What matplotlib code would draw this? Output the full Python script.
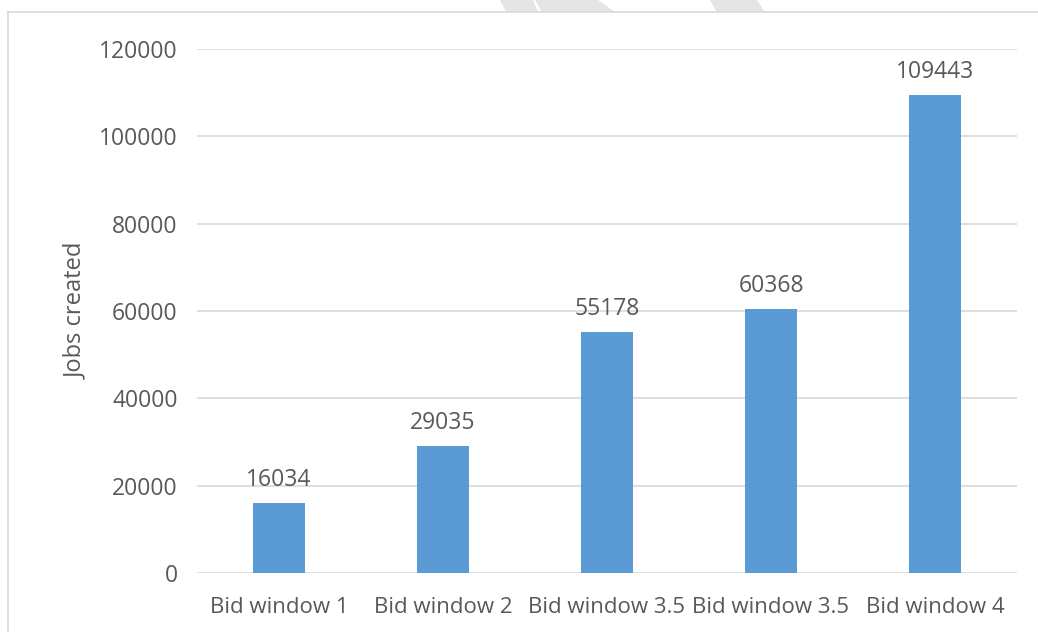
import matplotlib
matplotlib.use("Agg")
import matplotlib.pyplot as plt
from matplotlib.patches import Polygon
from matplotlib.lines import Line2D

categories = ["Bid window 1", "Bid window 2", "Bid window 3.5", "Bid window 3.5", "Bid window 4"]
jobs_created = [16034, 29035, 55178, 60368, 109443]
y_ticks = [0, 20000, 40000, 60000, 80000, 100000, 120000]

W, H = 1038, 632
plt.rcParams['font.family'] = ['Open Sans', 'DejaVu Sans']
fig = plt.figure(figsize=(W / 100, H / 100), dpi=100)

text_color = "#595959"
grid_color = "#D9D9D9"
bar_color = "#5B9BD5"

# decorative watermark shapes above the chart frame (figure pixel coords)
def px(x, y):
    return (x / W, 1 - y / H)

for pts in ([(500, 0), (533, 0), (538, 12), (506, 12)],
            [(535, 0), (598, 0), (615, 12), (542, 12)],
            [(710, 0), (757, 0), (765, 12), (717, 12)]):
    fig.patches.append(Polygon([px(*p) for p in pts], closed=True,
                               transform=fig.transFigure, facecolor="#E4E5E7",
                               edgecolor="none"))

# chart frame
fig.lines.append(Line2D([8 / W, 8 / W], [0, 1 - 12 / H], transform=fig.transFigure,
                        color=grid_color, lw=1.2))
fig.lines.append(Line2D([8 / W, 1], [1 - 12 / H, 1 - 12 / H], transform=fig.transFigure,
                        color=grid_color, lw=1.2))

ax = fig.add_axes([197 / W, 1 - 573 / H, (1017 - 197) / W, (573 - 49) / H])
x = range(len(categories))
bars = ax.bar(x, jobs_created, width=0.32, color=bar_color, zorder=3)

ax.set_xlim(-0.5, len(categories) - 0.5)
ax.set_ylim(0, 120000)
ax.set_yticks(y_ticks)
ax.set_yticklabels([str(v) for v in y_ticks])
ax.set_xticks(list(x))
ax.set_xticklabels(categories)
ax.yaxis.grid(True, color=grid_color, lw=1.2, zorder=0)
ax.set_axisbelow(True)
for s in ax.spines.values():
    s.set_visible(False)
ax.tick_params(axis='y', length=0, pad=14, labelsize=16.5, labelcolor=text_color)
ax.tick_params(axis='x', length=0, pad=17, labelsize=16, labelcolor=text_color)
ax.set_ylabel("Jobs created", fontsize=17, color=text_color, labelpad=8)

for rect, v in zip(bars, jobs_created):
    ax.annotate(str(v), (rect.get_x() + rect.get_width() / 2, v),
                xytext=(0, 8), textcoords="offset points", ha="center", va="bottom",
                fontsize=16.5, color=text_color)

fig.savefig("out.png", dpi=100, facecolor="white")
